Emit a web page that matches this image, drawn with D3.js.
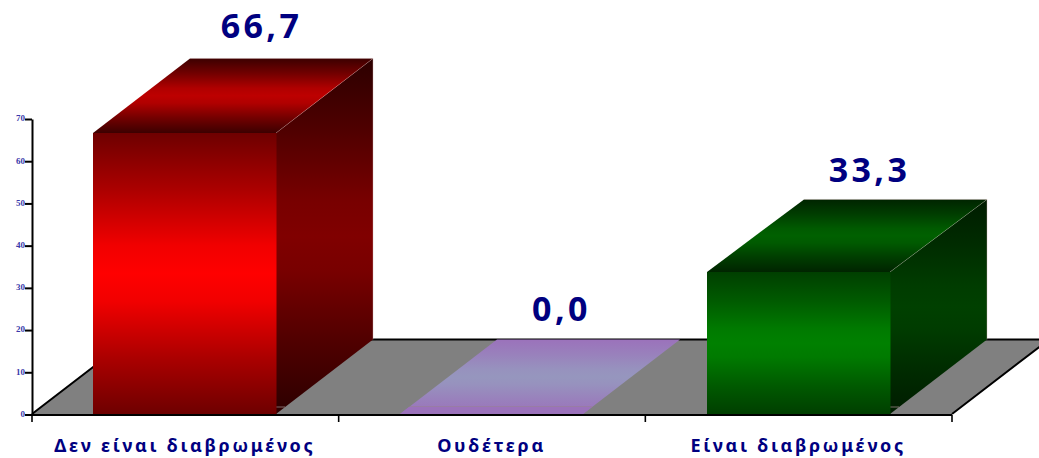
<!DOCTYPE html>
<html><head><meta charset="utf-8">
<style>html,body{margin:0;padding:0;background:#fff;overflow:hidden}svg{display:block}</style>
<script src="https://cdn.jsdelivr.net/npm/d3@7"></script></head>
<body><svg id="c" width="1039" height="458"></svg>
<script>
const categories = ["Δεν είναι διαβρωμένος", "Ουδέτερα", "Είναι διαβρωμένος"];
const values = [66.7, 0.0, 33.3];
const valueLabels = ["66,7", "0,0", "33,3"];
const yTicks = [0, 10, 20, 30, 40, 50, 60, 70];

const palettes = [
  {front:["#6e0000","#ff0000"], side:["#2c0000","#800000"], top:["#3c0000","#bd0000"]},
  {front:["#9b72bb","#9b72bb"], side:["#9b72bb","#9b72bb"], top:["#9b72bb","#9696be"]},
  {front:["#003f00","#008000"], side:["#001c00","#004000"], top:["#002400","#006000"]}
];
const gradStops = [[0,0],[0.2,0.42],[0.4,0.9],[0.5,1],[0.6,0.9],[0.8,0.42],[1,0]];
const dx = 97, dy = 74.5, floorY = 414, left = 32, right = 952;
const nudge = [5, -2, -1], nudgeY = [-2, -1, 1], frontLift = [0, 0, 1.8];

const svg = d3.select("#c");
const defs = svg.append("defs");
const slot = d3.scaleBand().domain(categories).range([left, right]);
const barW = slot.bandwidth() * 0.597, barOff = slot.bandwidth() * 0.2;
const y = d3.scaleLinear().domain([0, 70]).range([floorY + 0.5, 119]);
const line = d3.line();
const poly = p => line(p) + "Z";

function grad(id, c){
  const g = defs.append("linearGradient").attr("id", id).attr("x1",0).attr("y1",0).attr("x2",0).attr("y2",1);
  const mix = d3.interpolateRgb(c[0], c[1]);
  gradStops.forEach(s => g.append("stop").attr("offset",s[0]).attr("stop-color",mix(s[1])));
}
palettes.forEach((p,i)=>{grad("f"+i,p.front);grad("s"+i,p.side);grad("t"+i,p.top);});

// floor
svg.append("path").attr("d", poly([[left,floorY],[right,floorY],[right+dx,floorY-dy],[left+dx,floorY-dy]])).attr("fill","#808080");
svg.append("path").attr("d", line([[left,floorY],[left+dx,floorY-dy],[right+dx,floorY-dy],[right,floorY]]))
  .attr("fill","none").attr("stroke","#000").attr("stroke-width",2);

// bars
categories.forEach((c,i)=>{
  const x0 = Math.round(slot(c) + barOff), x1 = Math.round(slot(c) + barOff + barW);
  const yb = Math.min(y(values[i]), floorY), yv = Math.round(yb - frontLift[i]), yBack = yb - dy;
  const g = svg.append("g");
  g.append("path").attr("d", poly([[x1,yv],[x1+dx,yBack],[x1+dx,floorY-dy],[x1,floorY]])).attr("fill",`url(#s${i})`);
  g.append("path").attr("d", poly([[x0,yv],[x1,yv],[x1+dx,yBack],[x0+dx,yBack]])).attr("fill",`url(#t${i})`);
  if (values[i] > 0) {
    g.append("path").attr("d", line([[x0+dx,yBack],[x1+dx,yBack],[x1+dx,floorY-dy]])).attr("fill","none")
      .attr("stroke","rgba(200,170,170,0.55)").attr("stroke-width",0.7);
    g.append("path").attr("d", line([[x1,yv],[x1+dx,yBack]])).attr("fill","none")
      .attr("stroke","rgba(255,220,220,0.3)").attr("stroke-width",0.7);
  }
  g.append("path").attr("d", line([[x0+9,floorY-7],[x1+9,floorY-7]])).attr("stroke","rgba(150,130,130,0.8)").attr("stroke-width",1);
  if (values[i] > 0) {
    g.append("path").attr("d", poly([[x0,yv],[x1+0.5,yv],[x1+0.5,floorY],[x0,floorY]])).attr("fill",`url(#f${i})`);
  } else {
    g.append("path").attr("d", poly([[x0+9,floorY-7],[x1+9,floorY-7],[x1,floorY],[x0,floorY]])).attr("fill","#9b72bb");
  }
  svg.append("text").text(valueLabels[i])
    .attr("x", (x0+x1)/2 + 72 + nudge[i]).attr("y", yBack - 18 + nudgeY[i])
    .attr("text-anchor","middle").attr("fill","#000080")
    .style("font","bold 34px 'Noto Sans'").style("letter-spacing","3.4px");
});

// axes
const ax = svg.append("g").attr("transform",`translate(0,${floorY + 1})`)
  .call(d3.axisBottom(slot).tickValues([]).tickSizeOuter(0));
ax.select(".domain").attr("stroke","#000").attr("stroke-width",2).attr("d",`M${left},0H${right}`);
[0,1,2,3].forEach(k=>{
  const tx = k < 3 ? slot(categories[k]) : right;
  ax.append("line").attr("x1",tx).attr("x2",tx).attr("y1",0).attr("y2",7).attr("stroke","#000").attr("stroke-width",1.6);
});
categories.forEach((c,i)=>{
  svg.append("text").text(c).attr("x", slot(c)+barOff+barW/2).attr("y",452)
    .attr("text-anchor","middle").attr("fill","#000080")
    .style("font","bold 18px 'Noto Sans'").style("letter-spacing","2.7px");
});

const ay = svg.append("g").attr("transform",`translate(${left},0)`)
  .call(d3.axisLeft(y).tickValues(yTicks).tickSize(7).tickPadding(0).tickSizeOuter(0));
ay.select(".domain").attr("stroke","#000").attr("stroke-width",2);
ay.selectAll(".tick line").attr("stroke","#000").attr("stroke-width",2);
ay.selectAll(".tick text").attr("fill","#3a3aaa").style("font","bold 9px 'Liberation Serif'").attr("dy","0.2em");
</script></body></html>
